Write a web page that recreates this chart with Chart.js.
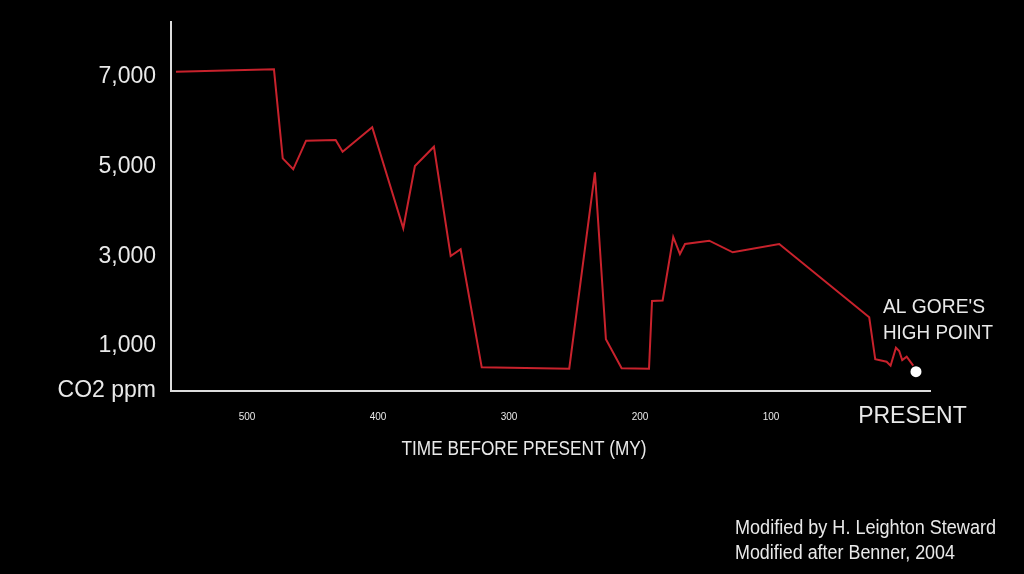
<!DOCTYPE html>
<html>
<head>
<meta charset="utf-8">
<style>
  html, body { margin: 0; padding: 0; background: #000; }
  #wrap { width: 1024px; height: 574px; background: #000; }
  canvas { display: block; }
</style>
<script src="https://cdn.jsdelivr.net/npm/chart.js@4.4.1/dist/chart.umd.min.js"></script>
</head>
<body>
<div id="wrap"><canvas id="c" width="1024" height="574"></canvas></div>
<script>
// ---- data (time before present in MY, CO2 in ppm) ----
const years = [554.2, 479.4, 472.7, 464.7, 454.9, 432.3, 427.0, 404.4, 380.7, 371.8, 357.3, 344.5, 336.9, 320.8, 254.0, 234.4, 226.0, 214.0, 193.1, 190.8, 182.7, 174.6, 169.5, 165.6, 147.1, 129.2, 93.7, 25.0, 20.4, 11.7, 8.7, 4.6, 2.1, -0.2, -3.6, -8.6];
const co2 = [7118, 7171, 5187, 4942, 5580, 5595, 5334, 5878, 3627, 5016, 5446, 3009, 3159, 528, 497, 4875, 1152, 506, 497, 2006, 2017, 3433, 3054, 3277, 3350, 3092, 3277, 1643, 707, 653, 564, 965, 892, 691, 765, 564];
const highPointYear = [-10.7];
const highPointCo2 = [430];

const yTickValues = [0, 1000, 3000, 5000, 7000];
const yTickLabels = ['CO2 ppm', '1,000', '3,000', '5,000', '7,000'];
const xTickValues = [500, 400, 300, 200, 100, -8];
const xTickLabels = ['500', '400', '300', '200', '100', 'PRESENT'];

const xTitle = 'TIME BEFORE PRESENT (MY)';
const noteLines = ["AL GORE'S", 'HIGH POINT'];
const creditLines = ['Modified by H. Leighton Steward', 'Modified after Benner, 2004'];

// ---- build ----
const FONT = '"Liberation Sans", Arial, Helvetica, sans-serif';
const TEXT = '#e9e9e9';
const lineData = years.map((y, i) => ({ x: y, y: co2[i] }));
const dotData = highPointYear.map((y, i) => ({ x: y, y: highPointCo2[i] }));

const textPlugin = {
  id: 'texts',
  afterDraw(chart) {
    const ctx = chart.ctx;
    ctx.save();
    ctx.fillStyle = TEXT;
    ctx.textBaseline = 'middle';
    ctx.textAlign = 'center';
    ctx.font = '20px ' + FONT;
    ctx.fillText(xTitle, 524, 449, 245);
    ctx.textAlign = 'left';
    ctx.font = '20px ' + FONT;
    ctx.fillText(noteLines[0], 883, 307, 102);
    ctx.fillText(noteLines[1], 883, 333, 110);
    ctx.textBaseline = 'alphabetic';
    ctx.font = '20px ' + FONT;
    ctx.fillText(creditLines[0], 735, 534, 261);
    ctx.fillText(creditLines[1], 735, 559, 220);
    ctx.restore();
  }
};

new Chart(document.getElementById('c'), {
  type: 'line',
  data: {
    datasets: [
      {
        data: lineData,
        borderColor: '#c8222c',
        borderWidth: 2,
        pointRadius: 0,
        tension: 0,
        fill: false
      },
      {
        data: dotData,
        showLine: false,
        pointRadius: 5.5,
        pointBackgroundColor: '#ffffff',
        pointBorderColor: '#ffffff',
        pointBorderWidth: 0
      }
    ]
  },
  options: {
    responsive: false,
    devicePixelRatio: 1,
    animation: false,
    layout: { padding: { left: 0, right: 94, top: 22, bottom: 0 } },
    plugins: { legend: { display: false }, tooltip: { enabled: false } },
    scales: {
      x: {
        type: 'linear',
        reverse: true,
        min: -21.4,
        max: 558,
        grid: { display: false, drawTicks: false },
        border: { display: true, color: '#dcdcdc', width: 2 },
        afterBuildTicks(scale) { scale.ticks = xTickValues.map(v => ({ value: v })); },
        afterFit(scale) { scale.height = 574 - 391; },
        ticks: {
          autoSkip: false,
          maxRotation: 0,
          padding: 20,
          crossAlign: 'near',
          color: TEXT,
          font: (c) => (c.tick && c.tick.value === -8)
            ? { family: FONT, size: 23, lineHeight: '12px' }
            : { family: FONT, size: 10, lineHeight: '12px' },
          callback: (v) => {
            const i = xTickValues.indexOf(v);
            return i >= 0 ? xTickLabels[i] : '';
          }
        }
      },
      y: {
        type: 'linear',
        min: 0,
        max: 8226,
        grid: { display: false, drawTicks: false },
        border: { display: true, color: '#dcdcdc', width: 2 },
        afterBuildTicks(scale) { scale.ticks = yTickValues.map(v => ({ value: v })); },
        afterFit(scale) { scale.width = 171; },
        ticks: {
          padding: 15,
          color: TEXT,
          font: { family: FONT, size: 23, lineHeight: '12px' },
          callback: (v) => {
            const i = yTickValues.indexOf(v);
            return i >= 0 ? yTickLabels[i] : '';
          }
        }
      }
    }
  },
  plugins: [textPlugin]
});
</script>
</body>
</html>
